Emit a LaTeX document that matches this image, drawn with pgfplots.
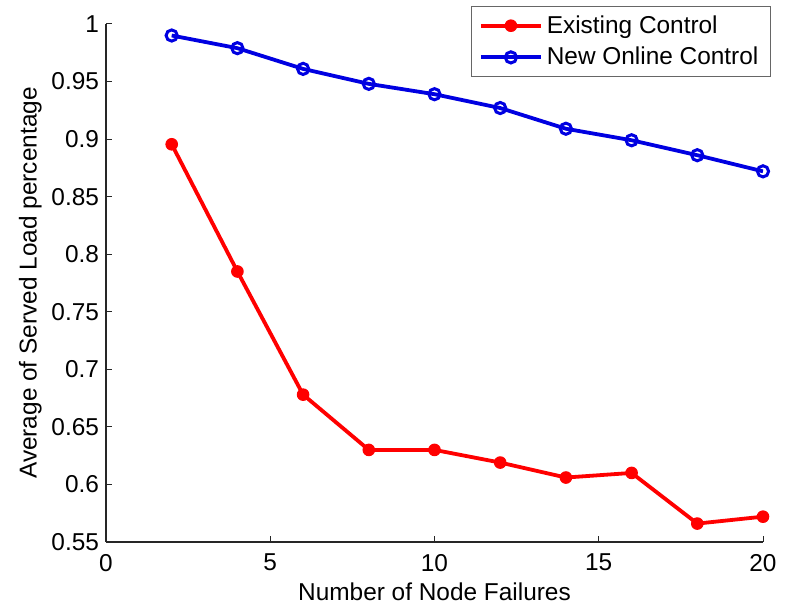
\documentclass[border=0pt]{standalone}
\usepackage{pgfplots}
\pgfplotsset{compat=1.18}
\usepackage{fontspec}
\setmainfont{Liberation Sans}

\definecolor{seriesred}{RGB}{255,0,0}
\definecolor{seriesblue}{RGB}{0,0,225}

\begin{document}
\begin{tikzpicture}
\begin{axis}[
  scale only axis,
  width=328.5pt, height=259pt,
  xmin=0, xmax=20, ymin=0.55, ymax=1,
  xtick={0,5,10,15,20},
  ytick={0.55,0.6,0.65,0.7,0.75,0.8,0.85,0.9,0.95,1},
  axis x line*=bottom, axis y line*=left,
  axis line style={-, draw=black!85, line width=0.6pt},
  tick align=inside,
  major tick length=3pt,
  tick style={draw=black!85, line width=0.5pt},
  font=\fontsize{12.2}{14.6}\selectfont,
  /pgf/number format/assume math mode=true,
  yticklabel style={/pgf/number format/fixed, /pgf/number format/precision=2},
  xticklabel style={yshift=-2.5pt},
  xlabel={Number of Node Failures},
  ylabel={Average of Served Load percentage},
  xlabel style={yshift=1pt},
  ylabel style={yshift=-2pt},
  legend style={
    at={(1.012,1.035)}, anchor=north east,
    draw=black!60, line width=0.5pt,
    font=\fontsize{12.2}{14.6}\selectfont,
    cells={anchor=west},
    row sep=1.5pt,
    inner xsep=4pt, inner ysep=2.5pt,
  },
  legend image code/.code={
    \draw[mark repeat=2, mark phase=2] plot coordinates {(0pt,0pt) (15pt,0pt) (30pt,0pt)};
  },
]
\addplot[seriesred, line width=1.9pt, mark=*, mark size=2.9pt,
         mark options={solid, fill=seriesred, draw=seriesred, line width=0.5pt}]
  coordinates {
    (2,0.8955) (4,0.785) (6,0.678) (8,0.630) (10,0.630)
    (12,0.619) (14,0.606) (16,0.610) (18,0.566) (20,0.572)
  };
\addlegendentry{Existing Control}
\addplot[seriesblue, line width=1.9pt, mark=o, mark size=2.8pt,
         mark options={solid, line width=1.5pt}]
  coordinates {
    (2,0.990) (4,0.979) (6,0.961) (8,0.948) (10,0.939)
    (12,0.927) (14,0.909) (16,0.899) (18,0.886) (20,0.872)
  };
\addlegendentry{New Online Control}
\end{axis}
\pgfresetboundingbox
\path (current axis.south west) ++(-53pt,-30.5pt) coordinate (bbA)
      (current axis.south west) ++(343pt,271pt) coordinate (bbB);
\useasboundingbox (bbA) rectangle (bbB);
\end{tikzpicture}
\end{document}
